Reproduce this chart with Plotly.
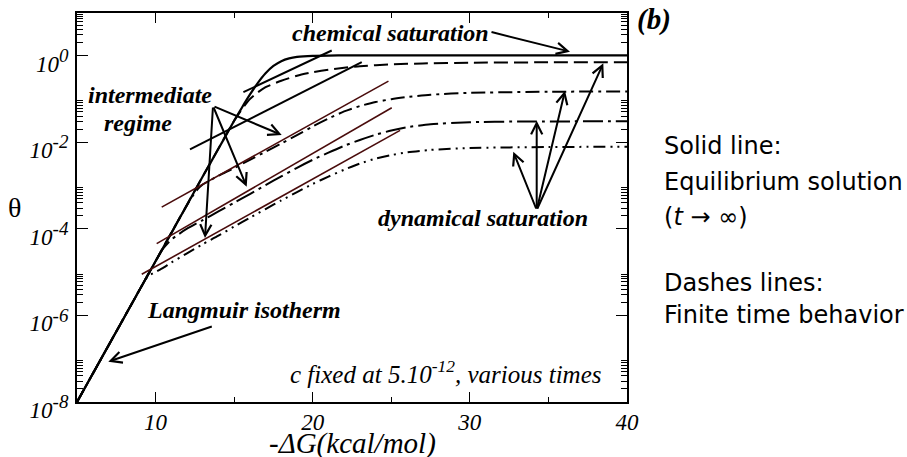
import plotly.graph_objects as go

# ---------------- data ----------------
x_eq = [5, 7, 9, 11, 13, 14, 15, 15.5, 16, 16.5, 17, 17.5, 18, 18.5, 19, 20, 21, 22, 40]
theta_eq = [1.0e-8, 2.0e-7, 4.0e-6, 7.9e-5, 1.6e-3, 7.0e-3, 3.1e-2, 6.3e-2, 0.124, 0.23,
            0.387, 0.571, 0.738, 0.856, 0.926, 0.982, 0.996, 1.0, 1.0]

x_t1 = [5, 9, 13, 15, 15.5, 16, 16.5, 17, 18, 19, 20, 21, 22, 23, 25, 27, 30, 35, 40]
theta_t1 = [1e-8, 4.0e-6, 1.6e-3, 0.031, 0.058, 0.098, 0.140, 0.185, 0.26, 0.34, 0.41,
            0.47, 0.52, 0.565, 0.62, 0.655, 0.68, 0.695, 0.70]

x_t2 = [5, 9, 11, 12, 12.6, 13, 14, 15, 16, 17, 18, 19, 20, 21, 22, 23, 24, 25, 26, 27.5,
        30, 35, 40]
theta_t2 = [1e-8, 4.0e-6, 7.9e-5, 3.5e-4, 7.6e-4, 1.05e-3, 1.66e-3, 2.5e-3, 3.9e-3, 6.0e-3,
            9.3e-3, 1.45e-2, 2.3e-2, 3.5e-2, 5.1e-2, 6.8e-2, 8.4e-2, 0.098, 0.110, 0.124,
            0.137, 0.145, 0.148]

x_t3 = [5, 9, 10, 10.5, 11, 11.5, 12, 13, 14, 15, 16, 17, 18, 19, 20, 21, 22, 23, 24, 25,
        26, 27.5, 30, 33, 40]
theta_t3 = [1e-8, 4.0e-6, 1.78e-5, 3.55e-5, 5.6e-5, 7.6e-5, 1.0e-4, 1.58e-4, 2.5e-4, 4.0e-4,
            6.3e-4, 1.02e-3, 1.62e-3, 2.55e-3, 3.9e-3, 5.7e-3, 8.2e-3, 1.12e-2, 1.48e-2,
            1.85e-2, 2.2e-2, 2.58e-2, 2.88e-2, 2.98e-2, 3.02e-2]

x_t4 = [5, 8, 9, 9.5, 10, 10.5, 11, 12, 13, 14, 15, 16, 17, 18, 19, 20, 21, 22, 23, 24, 25,
        26, 27.5, 30, 35, 40]
theta_t4 = [1e-8, 8.9e-7, 4.0e-6, 7.9e-6, 1.0e-5, 1.26e-5, 1.66e-5, 2.7e-5, 4.4e-5, 6.9e-5,
            1.12e-4, 1.8e-4, 2.85e-4, 4.5e-4, 7.0e-4, 1.08e-3, 1.6e-3, 2.3e-3, 3.2e-3,
            4.15e-3, 5.0e-3, 5.8e-3, 6.6e-3, 7.3e-3, 7.7e-3, 7.8e-3]

# intermediate-regime straight lines (end points)
lineA_x, lineA_y = [15.59, 21.21], [0.142, 1.30]
lineB_x, lineB_y = [12.19, 23.12], [6.76e-3, 0.70]
brown1_x, brown1_y = [10.39, 24.82], [3.16e-4, 0.255]
brown2_x, brown2_y = [10.07, 25.03], [4.52e-5, 0.062]
brown3_x, brown3_y = [9.12, 25.56], [8.9e-6, 0.0186]

x_tickvals = [10, 20, 30, 40]
x_ticktext = ["10", "20", "30", "40"]
y_tickvals = [1e-8, 1e-6, 1e-4, 1e-2, 1e0]
y_exponents = ["-8", "-6", "-4", "-2", "0"]
y_minor = [k * 10.0 ** e for e in (-8, -6, -4, -2, 0) for k in range(2, 10)]

# ---------------- figure ----------------
W, H = 907, 457
L, R, T, B = 77, 280, 13, 55
PW, PH = W - L - R, H - T - B

fig = go.Figure()

def add_line(x, y, dash, width=2, color="black", shape="spline"):
    fig.add_trace(go.Scatter(x=x, y=y, mode="lines",
                             line=dict(color=color, width=width, dash=dash, shape=shape,
                                       smoothing=0.6),
                             showlegend=False, hoverinfo="skip"))

add_line(x_t1, theta_t1, "14px,6px")
add_line(x_t2, theta_t2, "14px,5px,3px,5px")
add_line(x_t3, theta_t3, "20px,5px,3px,5px")
add_line(x_t4, theta_t4, "12px,5px,2px,5px,2px,5px")
add_line(x_eq, theta_eq, "solid", width=2.2)

brown = "#4a0c0c"
add_line(lineA_x, lineA_y, "solid", 2, "black", "linear")
add_line(lineB_x, lineB_y, "solid", 2, "black", "linear")
add_line(brown1_x, brown1_y, "solid", 1.6, brown, "linear")
add_line(brown2_x, brown2_y, "solid", 1.6, brown, "linear")
add_line(brown3_x, brown3_y, "solid", 1.6, brown, "linear")

serif = "Liberation Serif, Times New Roman, Times, serif"

def px2paper(px, py):
    return (px - L) / PW, (H - B - py) / PH

def text(px, py, s, size=20, bold=True, italic=True, xanchor="center", family=serif):
    xp, yp = px2paper(px, py)
    if bold:
        s = "<b>" + s + "</b>"
    if italic:
        s = "<i>" + s + "</i>"
    fig.add_annotation(x=xp, y=yp, xref="paper", yref="paper", text=s, showarrow=False,
                       xanchor=xanchor, yanchor="middle",
                       font=dict(family=family, size=size, color="black"))

def arrow(tx, ty, hx, hy, width=2):
    xp, yp = px2paper(hx, hy)
    fig.add_annotation(x=xp, y=yp, xref="paper", yref="paper", text="",
                       showarrow=True, axref="pixel", ayref="pixel",
                       ax=tx - hx, ay=ty - hy, arrowhead=5, arrowsize=1.1,
                       arrowwidth=width, arrowcolor="black", standoff=0)

# labels in the plot
text(390, 33, "chemical saturation", 24)
text(150, 95, "intermediate", 24)
text(138, 123, "regime", 24)
text(483, 218, "dynamical saturation", 24)
text(244, 310, "Langmuir isotherm", 24)
text(446, 372, "c fixed at 5.10<sup>-12</sup>, various times", 25, bold=False)
text(654, 19, "(b)", 29)

# arrows
arrow(490, 31.7, 570, 51.7)
for hx, hy in [(281.7, 135), (246.7, 186.7), (205, 238)]:
    arrow(213, 106, hx, hy)
for hx, hy in [(513.3, 151.7), (536.7, 120.7), (565, 90.7), (603.3, 63.3)]:
    arrow(536.7, 210, hx, hy)
arrow(213.3, 326, 108.3, 361.7)

# right-hand text
sans = "DejaVu Sans"
for py, s in [(146, "Solid line:"), (181.7, "Equilibrium solution"),
              (216.7, "(<i>t</i> → ∞)"), (283, "Dashes lines:"),
              (315, "Finite time behavior")]:
    text(662, py, s, 24, bold=False, italic=False, xanchor="left", family=sans)

# axis titles
text(14, 207, "θ", 28, bold=False, italic=False, family=serif)
text(352, 443, "-ΔG(kcal/mol)", 29, bold=False, italic=True, family=serif)

fig.update_layout(
    width=W, height=H,
    margin=dict(l=L, r=R, t=T, b=B, pad=0),
    paper_bgcolor="white", plot_bgcolor="white",
    xaxis=dict(range=[5, 40], showline=True, linecolor="black", linewidth=2,
               mirror="allticks", ticks="inside", ticklen=10, tickwidth=1.3,
               tickcolor="black", tickmode="array", tickvals=x_tickvals,
               ticktext=["<i>" + t + "</i>" for t in x_ticktext],
               ticklabelstandoff=-2,
               showgrid=False, zeroline=False,
               tickfont=dict(family=serif, size=23, color="black"),
               minor=dict(tickmode="array", tickvals=[15, 25, 35], ticks="inside",
                          ticklen=5, tickwidth=1.2, tickcolor="black", showgrid=False)),
    yaxis=dict(type="log", range=[-8, 0.98], showline=True, linecolor="black", linewidth=2,
               mirror="allticks", ticks="inside", ticklen=11, tickwidth=1.3,
               tickcolor="black", tickmode="array", tickvals=y_tickvals,
               ticktext=["<i>10<sup><span style='font-size:19px'>" + e +
                         "</span></sup></i>" for e in y_exponents],
               ticklabelshift=8, ticklabelstandoff=2,
               showgrid=False, zeroline=False,
               tickfont=dict(family=serif, size=23, color="black"),
               minor=dict(tickmode="array", tickvals=y_minor, ticks="inside",
                          ticklen=6, tickwidth=1, tickcolor="black", showgrid=False)),
)

fig.write_html("out.html")
